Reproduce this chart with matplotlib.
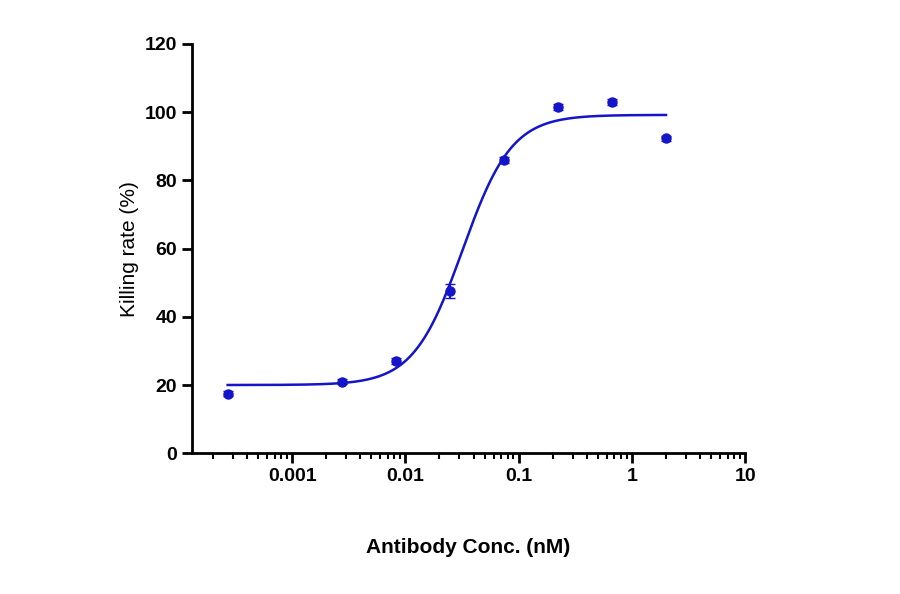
import numpy as np
import matplotlib
matplotlib.use("Agg")
import matplotlib.pyplot as plt

conc = [0.00027, 0.00274, 0.00823, 0.0247, 0.0741, 0.222, 0.667, 2.0]
killing = [17.5, 21.0, 27.0, 47.5, 86.0, 101.5, 103.0, 92.3]
err = [0.8, 0.8, 0.8, 2.0, 0.8, 0.8, 0.8, 0.8]
# 4PL fit parameters
bottom, top, ec50, hill = 20.0, 99.2, 0.032, 2.0

plt.rcParams['font.family'] = ['Liberation Sans', 'DejaVu Sans']
fig = plt.figure(figsize=(9, 5.94), dpi=100)
ax = fig.add_axes([0.213, 0.237, 0.615, 0.689])
color = '#1414c8'
xs = np.logspace(np.log10(conc[0]), np.log10(conc[-1]), 300)
ys = bottom + (top - bottom) / (1 + (ec50 / xs) ** hill)
ax.plot(xs, ys, color=color, lw=1.8)
ax.errorbar(conc, killing, yerr=err, fmt='o', color=color, ms=6.5, capsize=3.5, elinewidth=1.4)
ax.set_xscale('log')
ax.set_xlim(1.3e-4, 10)
ax.set_ylim(0, 120)
ax.set_yticks([0, 20, 40, 60, 80, 100, 120])
ax.set_xticks([0.001, 0.01, 0.1, 1, 10])
ax.set_xticklabels(['0.001', '0.01', '0.1', '1', '10'])
for s in ['top', 'right']:
    ax.spines[s].set_visible(False)
for s in ['left', 'bottom']:
    ax.spines[s].set_linewidth(2)
ax.tick_params(which='major', width=2, length=7, labelsize=14)
ax.tick_params(which='minor', width=1.5, length=4)
for lab in ax.get_xticklabels() + ax.get_yticklabels():
    lab.set_fontweight('bold')
ax.set_ylabel('Killing rate (%)', fontsize=15)
ax.set_xlabel('Antibody Conc. (nM)', fontsize=15, fontweight='bold', labelpad=38)
fig.savefig('out.png', dpi=100)
